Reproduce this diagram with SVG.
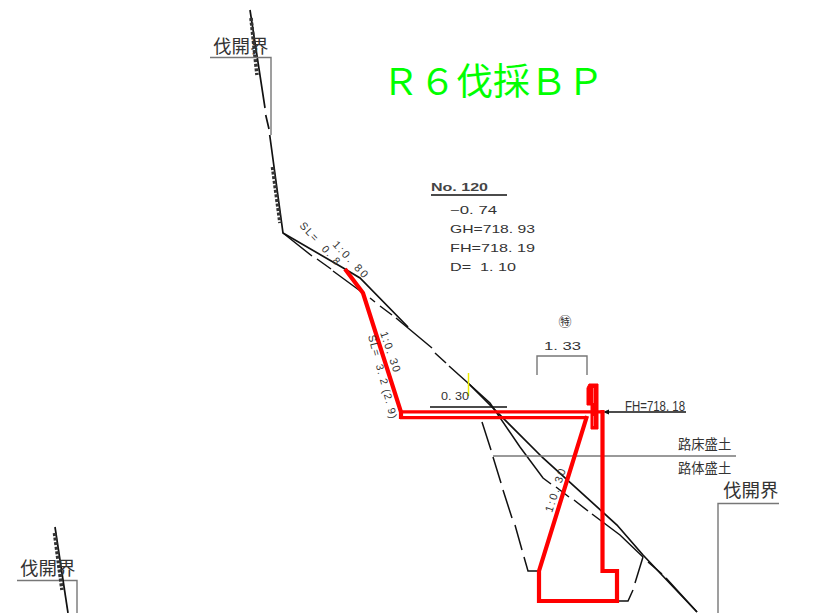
<svg xmlns="http://www.w3.org/2000/svg" width="826" height="613" viewBox="0 0 826 613">
<style>
.k{fill:none;stroke:#111;stroke-width:1.5}
.g{fill:none;stroke:#777;stroke-width:1.4}
.h{fill:none;stroke:#333;stroke-width:3.6;stroke-dasharray:3 1.600}
.r{fill:none;stroke:#f00;stroke-width:4.200;stroke-linejoin:miter}
.b{fill:none;stroke:#f00;stroke-width:3.200}
.t{font-family:"Liberation Sans",sans-serif;font-size:11px;fill:#333;white-space:pre}
.j{font-family:"Noto Sans CJK JP",sans-serif;fill:#333}
</style>
<rect width="826" height="613" fill="#fff"/>
<g id="connectors">
<path class="k" d="M250 10L265 108M265.700 115L269 129M269.700 135L283 233L345 269L360 278L408 327M468 383L480 395L543 458L617 525L643 555L697 612" style="stroke-width:1.7"/>
<path class="h" d="M251 18L257 75M272.500 167L280 223"/>
<path class="k" d="M283 233L312 256M317 259L331 269M333 271L363 293M370 298L375 302M380 306L392 315M396 318L432 348M435 353L446 363M449 366L468 383L490 403L520 447L543 478L551 484M556 487L569 497M574 500L588 511M592 514L620 535L643 557M648 562L662 574M666 578L697 612"/>
<path class="k" d="M482 422L491 450M493 457L501 483M503 490L512 518M515 525L522 550M524 557L528 571L538 571M643 557L635 583M633 590L628 601L618 601"/>
<path class="g" d="M210 57.500H271V135M17 580.500H77V613M718 613V503.500H779"/>
<path class="k" d="M55 527L68 613" style="stroke-width:1.7"/>
<path class="h" d="M54.500 533L62 590"/>
<path class="k" d="M430 407H507M431 195H507"/>
<path class="g" d="M537 375V356H587V375"/>
<path class="k" d="M607 412H686"/>
<path d="M603 412L609 409.500V414.500Z" fill="#111"/>
<path class="g" d="M493 456H736"/>
<path d="M468.500 373V396" fill="none" stroke="#ee0" stroke-width="1.5"/>
</g>
<g id="red-structure">
<path class="r" d="M345 269L363 293L401 412V419M587 416L539 571V601H617V571H602.500V410"/>
<path class="b" d="M400 411.800H604M400 417.600H587"/>
<path d="M589 384H598V429H591V405H587V388Z" fill="#f00" stroke="#f00" stroke-width="1" stroke-linejoin="round"/>
<path d="M593.500 388V403M593.500 416V426" stroke="#f66" stroke-width="1" fill="none"/>
</g>
<g id="title"><text x="382" y="95" class="j" font-size="37" style="fill:#0f0">Ｒ６伐採ＢＰ</text></g>
<g id="boundary-top"><text x="213" y="53" class="j" font-size="18.500">伐開界</text></g>
<g id="boundary-left"><text x="20" y="575" class="j" font-size="18.500">伐開界</text></g>
<g id="boundary-right"><text x="723" y="497" class="j" font-size="18.500">伐開界</text></g>
<g id="station-info">
<text class="t" x="431" y="191" textLength="57" lengthAdjust="spacingAndGlyphs" style="font-weight:bold;font-size:10.500px;fill:#444">No. 120</text>
<text class="t" x="450" y="214" textLength="47" lengthAdjust="spacingAndGlyphs">−0. 74</text>
<text class="t" x="450" y="233" textLength="85" lengthAdjust="spacingAndGlyphs">GH=718. 93</text>
<text class="t" x="450" y="252" textLength="85" lengthAdjust="spacingAndGlyphs">FH=718. 19</text>
<text class="t" x="450" y="271" textLength="66" lengthAdjust="spacingAndGlyphs">D=  1. 10</text>
</g>
<g id="labels">
<text class="t" transform="translate(299 226) rotate(47)" textLength="54" lengthAdjust="spacing" style="font-size:10.500px">SL=  0. 8</text>
<text class="t" transform="translate(332 245) rotate(47)" textLength="46" lengthAdjust="spacing">1:0. 80</text>
<text class="t" transform="translate(380 333) rotate(71)" textLength="42" lengthAdjust="spacing">1:0. 30</text>
<text class="t" transform="translate(368 336) rotate(75)" textLength="86" lengthAdjust="spacing" style="font-size:10.500px">SL=  3. 2 (2. 9)</text>
<text class="t" x="441" y="400" textLength="28" lengthAdjust="spacingAndGlyphs">0. 30</text>
<text class="t" transform="translate(552 513) rotate(-72)" textLength="45" lengthAdjust="spacing">1:0. 30</text>
<text class="t" x="544" y="350" textLength="37" lengthAdjust="spacingAndGlyphs">1. 33</text>
<text class="j" x="565" y="326" font-size="13" text-anchor="middle">㊕</text>
<text class="t" x="625" y="411" textLength="60" lengthAdjust="spacingAndGlyphs" style="font-size:14px">FH=718. 18</text>
<text class="j" x="678" y="449" font-size="13.300">路床盛土</text>
<text class="j" x="678" y="473" font-size="13.300">路体盛土</text>
</g>
</svg>
